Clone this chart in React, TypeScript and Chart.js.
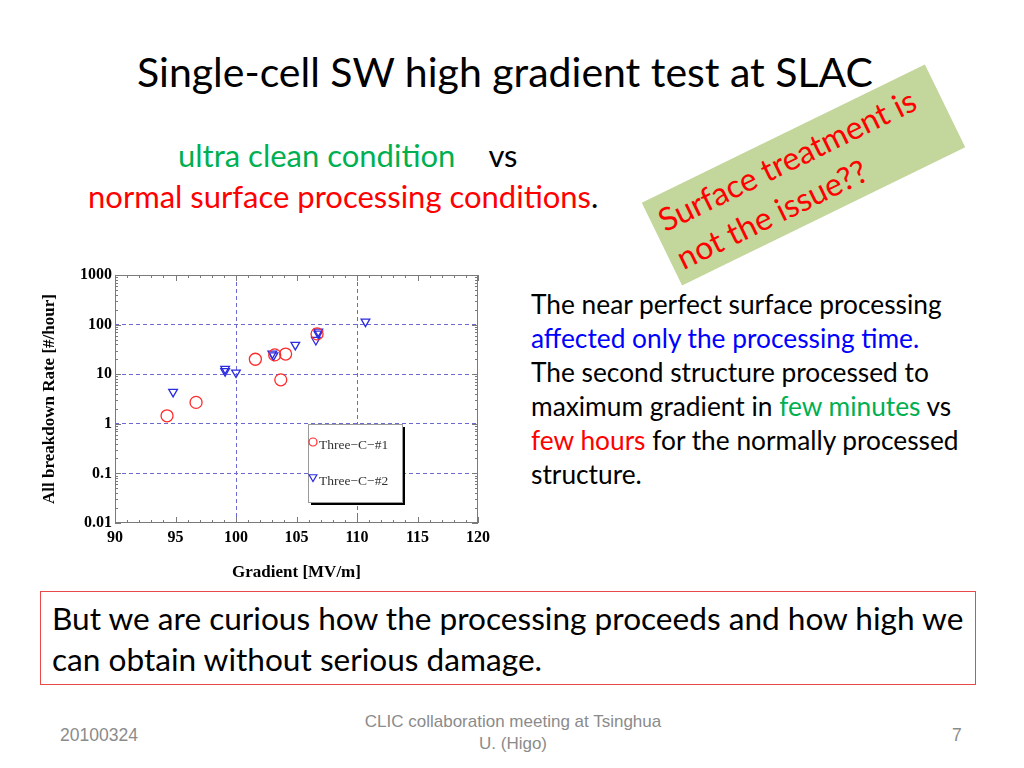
import React, { useEffect, useRef } from "react";
import { Chart, registerables } from "chart.js";
Chart.register(...registerables);

// ---- data ----
const xTicks = [90, 95, 100, 105, 110, 115, 120];
const xGridLines = [100, 110];
const yTicks = [0.01, 0.1, 1, 10, 100, 1000];
const yTickLabels = ["0.01", "0.1", "1", "10", "100", "1000"];
const yGridLines = [0.1, 1, 10, 100];

const series1Name = "Three\u2212C\u2212#1";
const series1X = [94.3, 96.7, 101.6, 103.2, 104.1, 103.7, 106.7];
const series1Y = [1.45, 2.7, 20, 24.5, 25.5, 7.7, 65];

const series2Name = "Three\u2212C\u2212#2";
const series2X = [94.8, 99.1, 99.1, 100.0, 103.0, 103.1, 104.9, 106.6, 106.8, 106.8, 110.7];
const series2Y = [4.4, 12.8, 11.5, 10.8, 26, 24, 39, 49, 72, 66, 115];

const xTitle = "Gradient [MV/m]";
const yTitle = "All breakdown Rate [#/hour]";

const SANS = "'Lato', 'Open Sans', 'Noto Sans', sans-serif";
const SERIF = "'Liberation Serif', 'DejaVu Serif', serif";
const FOOT = "'Liberation Sans', Arial, sans-serif";
const RED = "#ff2a2a";
const BLUE = "#2b2be0";
const GRID = "#6a6ad0";

const framePlugin = {
  id: "frame",
  beforeDatasetsDraw(chart: any) {
    const { ctx, chartArea: a, scales } = chart;
    ctx.save();
    ctx.strokeStyle = "#7a7a7a";
    ctx.lineWidth = 1;
    ctx.strokeRect(a.left + 0.5, a.top + 0.5, a.right - a.left - 1, a.bottom - a.top - 1);
    ctx.beginPath();
    for (let v = 90; v <= 120; v += 1) {
      const px = Math.round(scales.x.getPixelForValue(v)) + 0.5;
      const len = v % 5 === 0 ? 6 : 3;
      ctx.moveTo(px, a.bottom);
      ctx.lineTo(px, a.bottom - len);
      ctx.moveTo(px, a.top);
      ctx.lineTo(px, a.top + len);
    }
    for (let d = 0.01; d < 1000; d *= 10) {
      for (let m = 1; m <= 9; m++) {
        const py = Math.round(scales.y.getPixelForValue(m * d)) + 0.5;
        const len = m === 1 ? 6 : 3;
        ctx.moveTo(a.left, py);
        ctx.lineTo(a.left + len, py);
        ctx.moveTo(a.right, py);
        ctx.lineTo(a.right - len, py);
      }
    }
    ctx.stroke();
    ctx.restore();
  },
};

const legendPlugin = {
  id: "boxLegend",
  afterDatasetsDraw(chart: any) {
    const { ctx, chartArea: a } = chart;
    const x = a.left + 193;
    const y = a.top + 149;
    const w = 94;
    const h = 78;
    ctx.save();
    ctx.fillStyle = "#000";
    ctx.fillRect(x + 3, y + 3, w, h);
    ctx.fillStyle = "#fff";
    ctx.fillRect(x, y, w, h);
    ctx.strokeStyle = "#9a9a9a";
    ctx.lineWidth = 1;
    ctx.strokeRect(x + 0.5, y + 0.5, w, h);
    ctx.strokeStyle = RED;
    ctx.lineWidth = 1.2;
    ctx.beginPath();
    ctx.arc(x + 5, y + 18, 4, 0, Math.PI * 2);
    ctx.stroke();
    ctx.strokeStyle = BLUE;
    const tx = x + 5;
    const ty = y + 53;
    const r = 4.5;
    ctx.beginPath();
    ctx.moveTo(tx - r * 0.866, ty - r * 0.5);
    ctx.lineTo(tx + r * 0.866, ty - r * 0.5);
    ctx.lineTo(tx, ty + r);
    ctx.closePath();
    ctx.stroke();
    ctx.fillStyle = "#333";
    ctx.font = `13.5px ${SERIF}`;
    ctx.textBaseline = "middle";
    ctx.fillText(series1Name, x + 11, y + 21);
    ctx.fillText(series2Name, x + 11, y + 57);
    ctx.restore();
  },
};

export default function App() {
  const ref = useRef<HTMLCanvasElement>(null);
  useEffect(() => {
    const canvas = ref.current!;
    const tickFont = { family: SERIF, size: 16, weight: "bold" as const };
    const chart = new Chart(canvas, {
      type: "scatter",
      data: {
        datasets: [
          {
            label: series1Name,
            data: series1X.map((x, i) => ({ x, y: series1Y[i] })),
            pointStyle: "circle",
            pointRadius: 6,
            pointBorderWidth: 1.3,
            borderColor: RED,
            backgroundColor: "rgba(0,0,0,0)",
          },
          {
            label: series2Name,
            data: series2X.map((x, i) => ({ x, y: series2Y[i] })),
            pointStyle: "triangle",
            pointRotation: 180,
            pointRadius: 5,
            pointBorderWidth: 1.3,
            borderColor: BLUE,
            backgroundColor: "rgba(0,0,0,0)",
          },
        ],
      },
      options: {
        responsive: false,
        animation: false,
        devicePixelRatio: 1,
        layout: { padding: { left: 0, right: 32, top: 13, bottom: 0 } },
        plugins: { legend: { display: false }, tooltip: { enabled: false } },
        scales: {
          x: {
            type: "linear",
            min: 90,
            max: 120,
            afterBuildTicks: (s: any) => {
              s.ticks = xTicks.map((v) => ({ value: v }));
            },
            afterFit: (s: any) => {
              s.height = 67;
              s.paddingLeft = 0;
              s.paddingRight = 0;
            },
            ticks: { font: tickFont, color: "#000", padding: 5, maxRotation: 0, autoSkip: false },
            grid: {
              drawTicks: false,
              color: (c: any) => (xGridLines.includes(c.tick?.value) ? GRID : "rgba(0,0,0,0)"),
              lineWidth: 1,
            },
            border: { display: false, dash: [4, 3] },
            title: {
              display: true,
              text: xTitle,
              font: { family: SERIF, size: 17, weight: "bold" },
              color: "#000",
              padding: { top: 0, bottom: 7 },
            },
          },
          y: {
            type: "logarithmic",
            min: 0.01,
            max: 1000,
            afterBuildTicks: (s: any) => {
              s.ticks = yTicks.map((v) => ({ value: v }));
            },
            afterFit: (s: any) => {
              s.width = 85;
              s.paddingTop = 0;
              s.paddingBottom = 0;
            },
            ticks: {
              font: tickFont,
              color: "#000",
              padding: 3,
              autoSkip: false,
              callback: (v: any) => {
                const i = yTicks.indexOf(Number(v));
                return i >= 0 ? yTickLabels[i] : "";
              },
            },
            grid: {
              drawTicks: false,
              color: (c: any) => (yGridLines.includes(c.tick?.value) ? GRID : "rgba(0,0,0,0)"),
              lineWidth: 1,
            },
            border: { display: false, dash: [4, 3] },
            title: {
              display: true,
              text: yTitle,
              font: { family: SERIF, size: 17, weight: "bold" },
              color: "#000",
              padding: { top: 9, bottom: 0 },
            },
          },
        },
      },
      plugins: [framePlugin, legendPlugin],
    } as any);
    return () => chart.destroy();
  }, []);

  const abs = (s: React.CSSProperties): React.CSSProperties => ({ position: "absolute", whiteSpace: "nowrap", ...s });

  return (
    <div
      style={{
        position: "fixed",
        left: 0,
        top: 0,
        width: 1024,
        height: 768,
        background: "#fff",
        overflow: "hidden",
        fontFamily: SANS,
        color: "#000",
      }}
    >
      <div style={abs({ left: 505, top: 47, transform: "translateX(-50%)", fontSize: 41, lineHeight: "50px" })}>
        Single-cell SW high gradient test at SLAC
      </div>

      <div
        style={{
          position: "absolute",
          left: 803 - 157,
          top: 175 - 46,
          width: 315,
          height: 92,
          background: "#c3d69b",
          transform: "rotate(-26deg)",
          transformOrigin: "50% 50%",
          color: "#ff0000",
          fontSize: 32,
          lineHeight: "42px",
          boxSizing: "border-box",
          paddingLeft: 8,
          paddingTop: 4,
          whiteSpace: "nowrap",
        }}
      >
        Surface treatment is
        <br />
        not the issue??
      </div>

      <div style={abs({ left: 178, top: 137, fontSize: 31, lineHeight: "36px" })}>
        <span style={{ color: "#00b050" }}>ultra clean condition</span>
        <span style={{ marginLeft: 33 }}>vs</span>
      </div>
      <div style={abs({ left: 88, top: 178, fontSize: 31, lineHeight: "36px" })}>
        <span style={{ color: "#ff0000" }}>normal surface processing conditions</span>.
      </div>

      <div style={{ position: "absolute", left: 30, top: 262, width: 480, height: 328 }}>
        <canvas ref={ref} width={480} height={328} style={{ display: "block" }} />
      </div>

      <div style={abs({ left: 531, top: 287, fontSize: 26.3, lineHeight: "34px" })}>
        The near perfect surface processing
        <br />
        <span style={{ color: "#0000ff" }}>affected only the processing time.</span>
        <br />
        The second structure processed to
        <br />
        maximum gradient in <span style={{ color: "#00b050" }}>few minutes</span> vs
        <br />
        <span style={{ color: "#ff0000" }}>few hours</span> for the normally processed
        <br />
        structure.
      </div>

      <div
        style={{
          position: "absolute",
          left: 40,
          top: 591,
          width: 936,
          height: 94,
          border: "1px solid #e84a4a",
          boxSizing: "border-box",
        }}
      />
      <div style={abs({ left: 52, top: 598, fontSize: 31.6, lineHeight: "41px" })}>
        But we are curious how the processing proceeds and how high we
        <br />
        can obtain without serious damage.
      </div>

      <div style={abs({ left: 60, top: 724, fontSize: 17.5, lineHeight: "22px", color: "#8b8b8b", fontFamily: FOOT })}>
        20100324
      </div>
      <div
        style={abs({
          left: 513,
          top: 711,
          transform: "translateX(-50%)",
          textAlign: "center",
          fontSize: 17,
          lineHeight: "22px",
          color: "#8b8b8b",
          fontFamily: FOOT,
        })}
      >
        CLIC collaboration meeting at Tsinghua
        <br />
        U. (Higo)
      </div>
      <div style={abs({ left: 952, top: 724, fontSize: 17.5, lineHeight: "22px", color: "#8b8b8b", fontFamily: FOOT })}>
        7
      </div>
    </div>
  );
}
